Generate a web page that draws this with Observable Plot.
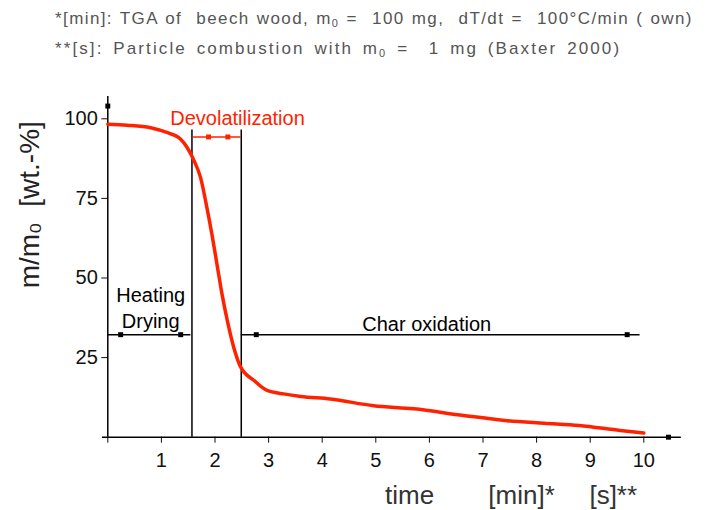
<!DOCTYPE html>
<html>
<head>
<meta charset="utf-8">
<script src="https://cdn.jsdelivr.net/npm/d3@7"></script>
<script src="https://cdn.jsdelivr.net/npm/@observablehq/plot@0.6"></script>
<style>
  html, body { margin: 0; padding: 0; background: #fff; }
  #notes { height: 70px; position: relative; font-family: "Liberation Sans", Arial, sans-serif; color: #555; font-size: 17px; }
  #notes div { position: absolute; left: 55px; white-space: pre; letter-spacing: 1.4px; word-spacing: 1px; }
  #notes sub { font-size: 11px; vertical-align: -3px; }
  #chart svg { display: block; }
</style>
</head>
<body>
<div id="notes">
  <div style="top:9px">*[min]: TGA of  beech wood, m<sub>0</sub> =  100 mg,  dT/dt =  100°C/min ( own)</div>
  <div style="top:39px;letter-spacing:2.1px;word-spacing:3px">**[s]: Particle combustion with m<sub>0</sub> =  1 mg (Baxter 2000)</div>
</div>
<div id="chart"></div>
<script>
// Mass-loss curve (TGA of beech wood)
const time = [0, 0.36, 0.8, 1.1, 1.36, 1.48, 1.61, 1.73, 1.85, 1.95, 2.05, 2.13, 2.23, 2.35, 2.48, 2.73, 2.97, 3.28, 3.6, 4.15, 4.96, 5.71, 6.64, 7.45, 8.14, 8.79, 9.56, 10];
const mass = [98.3, 98, 97.2, 95.7, 93.6, 91, 86.8, 81.6, 72, 63, 53, 45, 36.6, 28.2, 22, 17.8, 14.7, 13.6, 12.8, 12, 9.9, 8.9, 6.8, 5.2, 4.4, 3.7, 2.1, 1.3];

// Phase boundaries (vertical lines)
const boundaryX = [1.57, 2.49];
const boundaryTop = 96.5;

// Phase arrows
const phaseNames = ["Heating\nDrying", "Devolatilization", "Char oxidation"];
const phaseStart = [0, 1.60, 2.49];
const phaseEnd = [1.55, 2.49, 9.93];
const phaseLevel = [32.2, 94.3, 32.2];
const phaseColor = ["black", "#ff2200", "black"];
const labelX = [0.80, 2.42, 5.95];
const labelY = [41, 100.6, 36];

// Arrowhead markers
const markX = [0.24, 1.36, 1.88, 2.24, 2.77, 9.69, 0, 10.46];
const markY = [32.2, 32.2, 94.3, 94.3, 32.2, 32.2, 104, 0];
const markColor = ["black", "black", "#ff2200", "#ff2200", "black", "black", "black", "black"];

// Axis ticks and labels
const xTicks = [0, 1, 2, 3, 4, 5, 6, 7, 8, 9, 10];
const yTicks = [25, 50, 75, 100];
const yLabel = "m/m₀  [wt.-%]";
const xLabelParts = ["time", "[min]*", "[s]**"];
const xLabelX = [5.63, 7.72, 9.43];

const curve = time.map((t, i) => ({t, m: mass[i]}));
const phases = phaseNames.map((n, i) => ({n, x1: phaseStart[i], x2: phaseEnd[i], y: phaseLevel[i], c: phaseColor[i], lx: labelX[i], ly: labelY[i]}));
const marks = markX.map((x, i) => ({x, y: markY[i], c: markColor[i]}));

const font = "Liberation Sans, Arial, sans-serif";

const plot = Plot.plot({
  width: 726,
  height: 440,
  marginLeft: 107.3,
  marginRight: 82.7,
  marginTop: 48.3,
  marginBottom: 73.3,
  style: {fontFamily: font, color: "#111", background: "white"},
  x: {domain: [0, 10]},
  y: {domain: [0, 100]},
  marks: [
    Plot.axisY({ticks: yTicks, tickSize: 6, tickPadding: 4, fontSize: 20, label: null}),
    Plot.axisX({ticks: xTicks, tickSize: 6, tickPadding: 10, fontSize: 20, label: null, tickFormat: d => d === 0 ? "" : d}),
    // axis lines
    Plot.ruleX([0], {y1: 0, y2: 107, stroke: "black", strokeWidth: 1.5}),
    Plot.ruleY([0], {x1: -0.1, x2: 10.7, stroke: "black", strokeWidth: 1.5}),
    // phase boundaries
    Plot.ruleX(boundaryX, {y1: 0, y2: boundaryTop, stroke: "black", strokeWidth: 1.5}),
    // phase arrows
    Plot.ruleY(phases, {y: "y", x1: "x1", x2: "x2", stroke: "c", strokeWidth: 1.5}),
    Plot.dot(marks, {x: "x", y: "y", fill: "c", symbol: "square", r: 2.8}),
    // curve
    Plot.line(curve, {x: "t", y: "m", stroke: "#ff2200", strokeWidth: 3.5, curve: "monotone-x"}),
    // labels
    Plot.text(phases, {x: "lx", y: "ly", text: "n", fill: "c", fontSize: 20, lineHeight: 1.3}),
    Plot.text([yLabel], {x: -1.46, y: 73, text: d => d, rotate: -90, fontSize: 28, fill: "#222"}),
    Plot.text(xLabelParts, {x: (d, i) => xLabelX[i], y: -18.3, text: d => d, fontSize: 26, fill: "#333"})
  ]
});
document.getElementById("chart").appendChild(plot);
</script>
</body>
</html>
